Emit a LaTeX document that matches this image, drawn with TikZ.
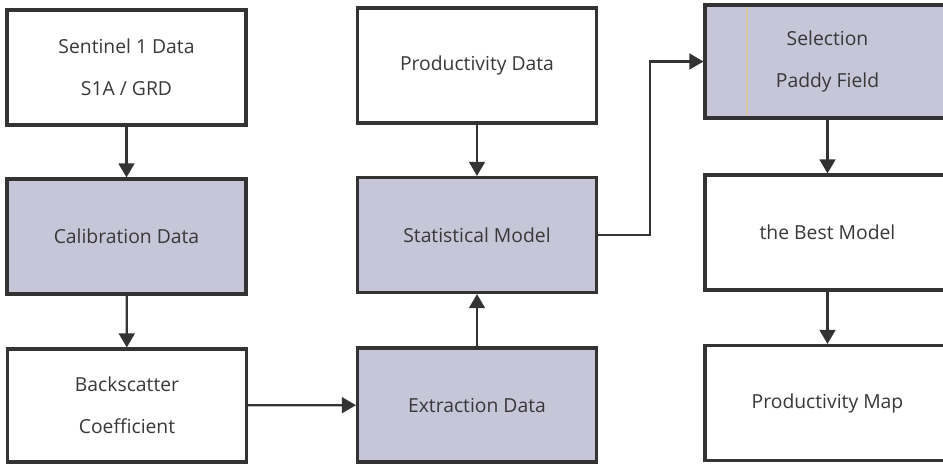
\documentclass[tikz,border=0pt]{standalone}
\usepackage{fontspec}
\setmainfont{Open Sans}
\usetikzlibrary{arrows.meta}
\definecolor{boxgray}{RGB}{198,198,216}
\definecolor{edgegray}{RGB}{51,51,51}
\definecolor{scantan}{RGB}{214,196,164}
\tikzset{
  stagebox/.style={draw=edgegray,line width=1.8pt,fill=white,minimum width=4.78cm,
    minimum height=2.3cm,align=center,font=\fontsize{11}{14}\selectfont,text=black!78},
  shadebox/.style={stagebox,fill=boxgray},
  flow/.style={draw=edgegray,line width=1.3pt,-{Triangle[width=9pt,length=8pt]}}
}
\begin{document}
\begin{tikzpicture}[x=0.02cm,y=-0.02cm]
   \useasboundingbox (0,0) rectangle (943,464);
   \clip (0,0) rectangle (943,464);

   % left column
   \node[stagebox] (sentinel) at (126.5,67.5) {Sentinel 1 Data\\[10pt]S1A / GRD};
   \node[shadebox] (calib) at (126.5,236.5) {Calibration Data};
   \node[stagebox,minimum height=2.26cm] (backsc) at (127,405.5) {Backscatter\\[10pt]Coefficient};

   % middle column
   \node[stagebox] (proddata) at (477,65.5) {Productivity Data};
   \node[shadebox] (statmod) at (477,235) {Statistical Model};
   \node[shadebox,minimum height=2.28cm] (extract) at (477,405) {Extraction Data};

   % right column
   \node[shadebox,minimum width=4.9cm,minimum height=2.26cm] (paddy) at (827.5,61.5) {};
   \draw[scantan,line width=1pt] (747,7) -- (747,116);
   \node[align=center,font=\fontsize{11}{14}\selectfont,text=black!78] (paddytext) at (827.5,61.5) {Selection\\[10pt]Paddy Field};
   \node[stagebox,minimum width=4.9cm] (bestmod) at (827.5,232.5) {the Best Model};
   \node[stagebox,minimum width=4.9cm] (prodmap) at (827.5,403) {Productivity Map};

   \draw[flow] (sentinel) -- (calib);
   \draw[flow] (calib) -- (backsc);
   \draw[flow] (backsc) -- (extract);
   \draw[flow] (extract) -- (statmod);
   \draw[flow] (proddata) -- (statmod);
   \draw[flow] (statmod.east) -- (650,235) |- (paddy.west);
   \draw[flow] (paddy) -- (bestmod);
   \draw[flow] (bestmod) -- (prodmap);
\end{tikzpicture}
\end{document}
